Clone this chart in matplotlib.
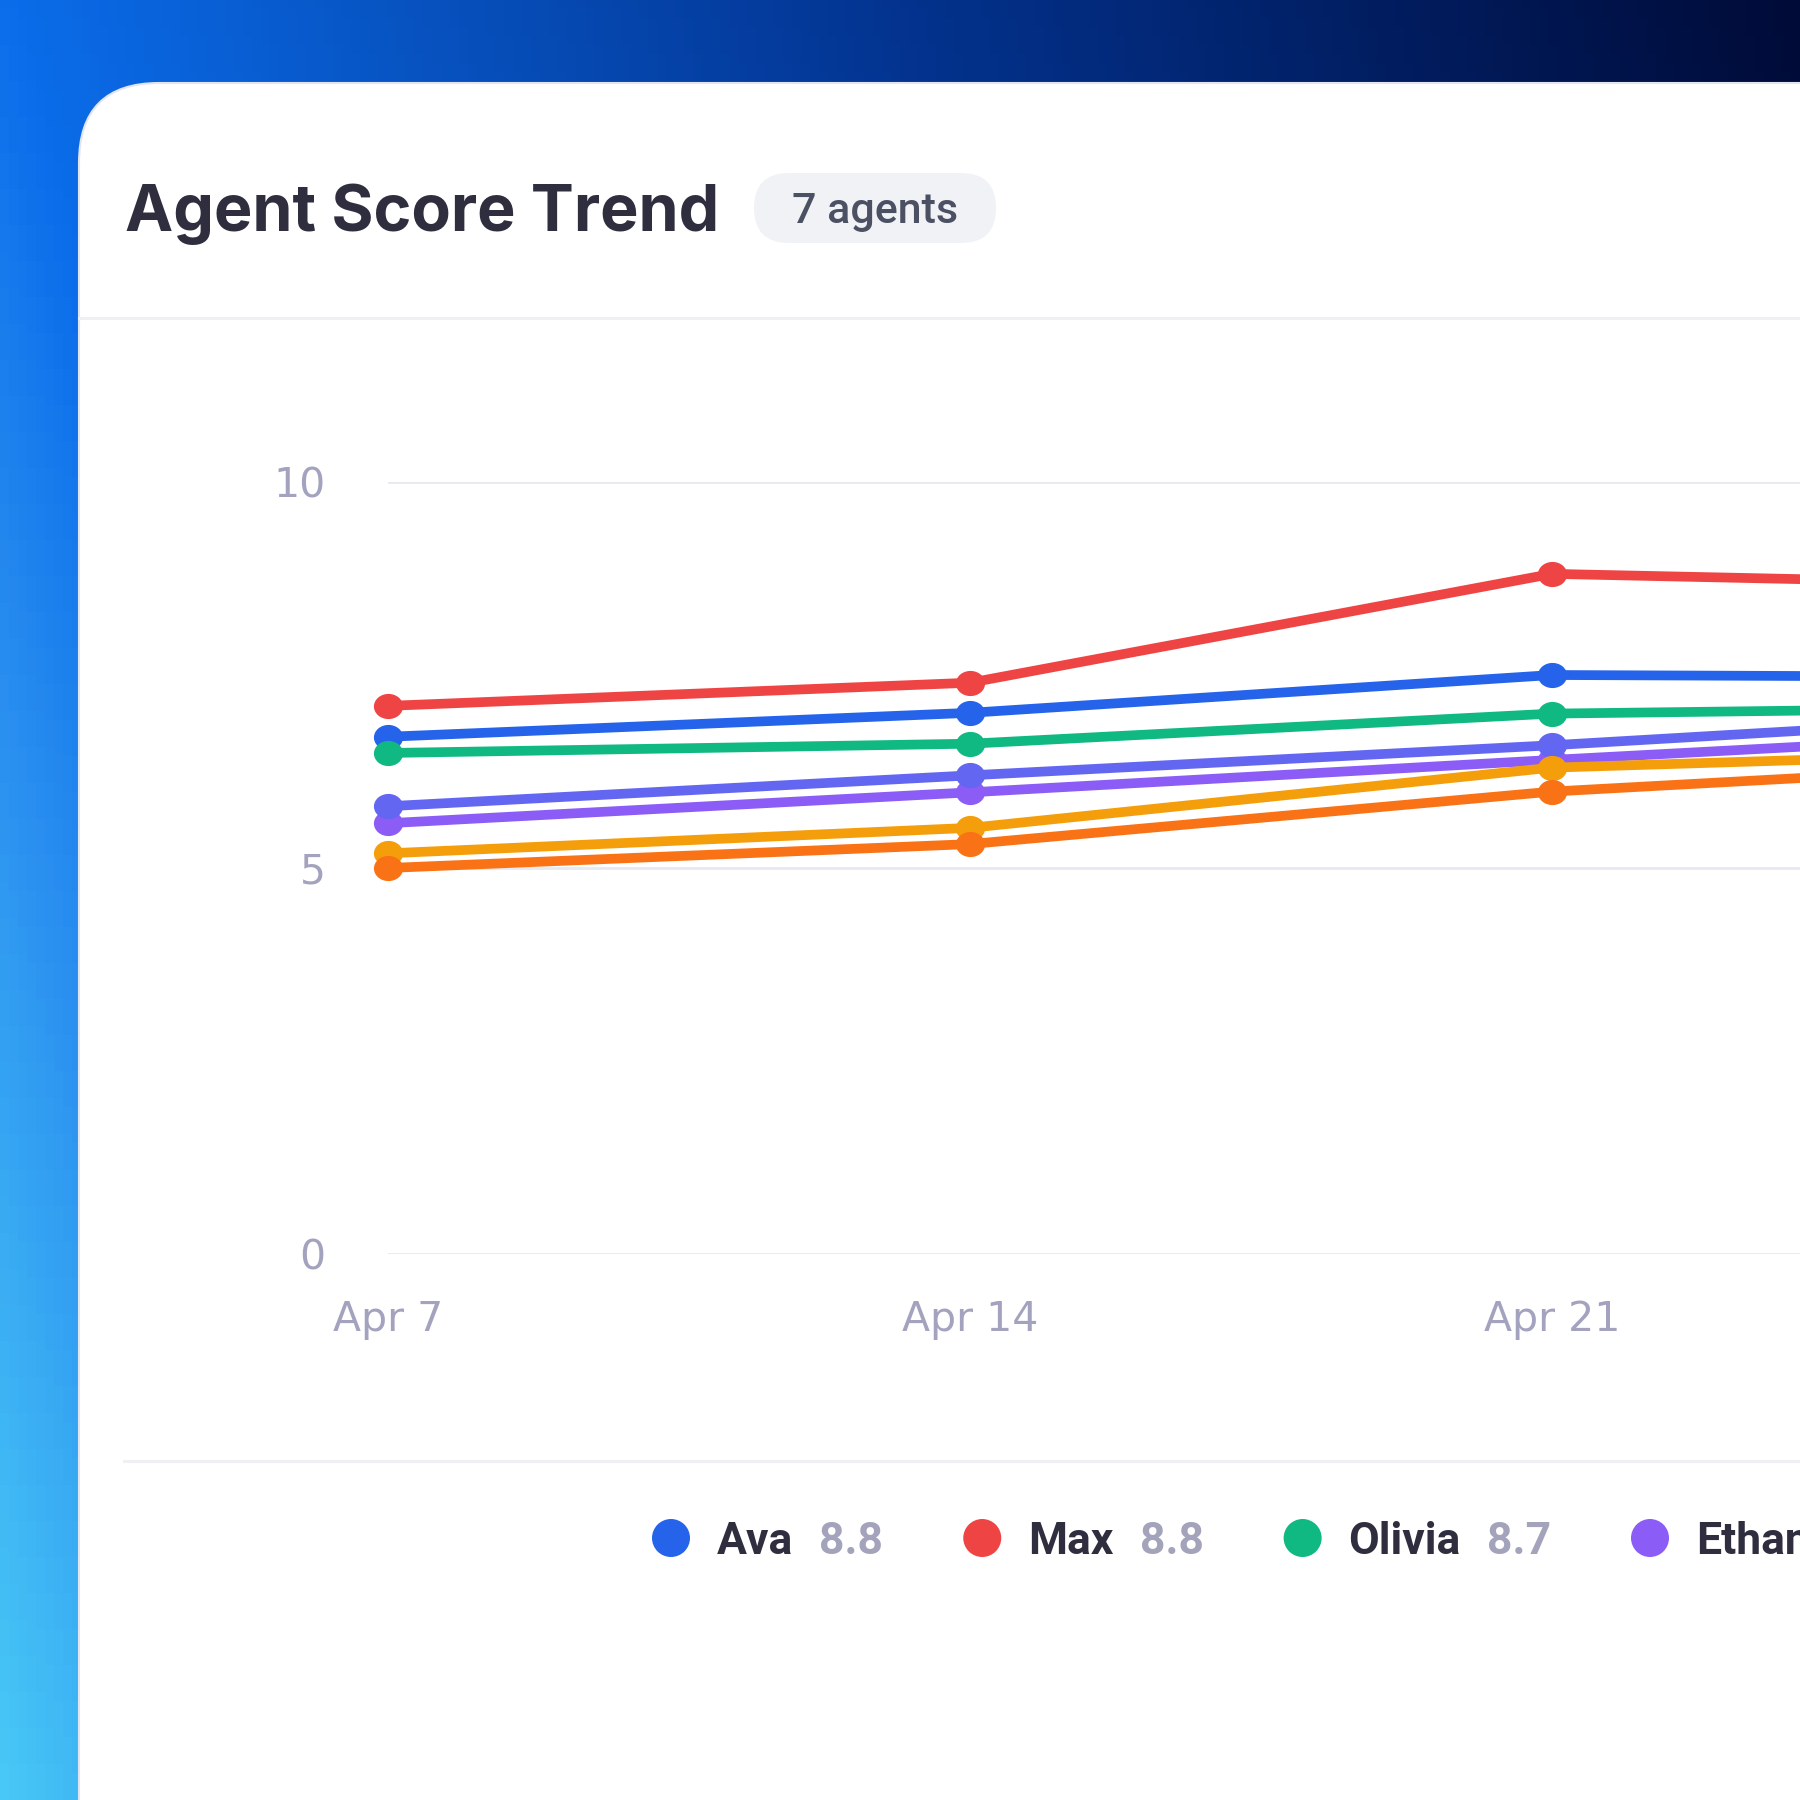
import numpy as np
import matplotlib
matplotlib.use("Agg")
import matplotlib.pyplot as plt
from matplotlib.colors import LinearSegmentedColormap
from matplotlib.patches import FancyBboxPatch, Circle
from matplotlib.path import Path
from matplotlib.transforms import Affine2D

# ---- data ----
weeks = ["Apr 7", "Apr 14", "Apr 21", "Apr 28"]
agents = ["Ava", "Max", "Olivia", "Ethan", "Sophia", "Liam", "Noah"]
colors = ["#2563eb", "#ef4444", "#10b981", "#8b5cf6", "#6366f1", "#f59e0b", "#f97316"]
ava = [6.70, 7.01, 7.50, 7.47]
max_ = [7.10, 7.40, 8.81, 8.65]
olivia = [6.49, 6.61, 7.00, 7.09]
ethan = [5.58, 5.98, 6.40, 6.80]
sophia = [5.80, 6.20, 6.59, 7.03]
liam = [5.19, 5.52, 6.30, 6.53]
noah = [5.00, 5.31, 5.99, 6.40]
legend_scores = ["8.8", "8.8", "8.7", "8.5", "8.3", "8.1", "7.9"]
y_ticks = [0, 5, 10]

series = [ava, max_, olivia, ethan, sophia, liam, noah]

W = H = 1800
fig = plt.figure(figsize=(18, 18), dpi=100)

# background axes in pixel coords (y down)
bg = fig.add_axes([0, 0, 1, 1])
bg.set_xlim(0, W)
bg.set_ylim(H, 0)
bg.axis("off")

# gradient backdrop
cmap = LinearSegmentedColormap.from_list(
    "bg", [(0.0, "#48c8f6"), (0.12, "#2a8ff0"), (0.2, "#0b6dea"),
           (0.6, "#03338f"), (1.0, "#000b38")])
yy, xx = np.mgrid[0:1:200j, 0:1:200j]
t = 0.8 * xx + 0.2 * (1 - yy)
bg.imshow(t, cmap=cmap, extent=(0, W, H, 0), aspect="auto", zorder=0, vmin=0, vmax=1)

# white card, only its top-left corner is in frame
card = FancyBboxPatch((79, 83), 2200, 2200, boxstyle="round,pad=0,rounding_size=80",
                      facecolor="white", edgecolor="#e2e5ef", lw=1.5, zorder=1)
bg.add_patch(card)
bg.plot([79, W], [318, 318], color="#eef0f4", lw=2.2, zorder=2)
bg.plot([124, W], [1461, 1461], color="#eff0f4", lw=2.2, zorder=2)

# header
bg.text(125, 231, "Agent Score Trend", fontsize=46.5, fontweight="bold", family="Inter",
        color="#2f2e3e", va="baseline", ha="left", zorder=3)
badge = FancyBboxPatch((754, 173), 242, 70, boxstyle="round,pad=0,rounding_size=35",
                       facecolor="#f1f2f6", edgecolor="none", zorder=2)
bg.add_patch(badge)
bg.text(875, 223, "7 agents", fontsize=31, fontweight="medium", family="Roboto",
        color="#4b5063", va="baseline", ha="center", zorder=3)

# chart axes: 582 px per week, extends past the right edge
x0, step = 388, 582
top, bottom = 482, 1254
ax = fig.add_axes([x0 / W, 1 - bottom / H, step * (len(weeks) - 1) / W, (bottom - top) / H])
ax.set_facecolor("none")
ax.set_xlim(0, len(weeks) - 1)
ax.set_ylim(0, 10)
for s in ax.spines.values():
    s.set_visible(False)
for v in y_ticks:
    ax.axhline(v, color="#e8e8f0", lw=2, zorder=1)

ellipse = Path.unit_circle().transformed(Affine2D().scale(1.17, 1.0))
xs = np.arange(len(weeks))
for vals, c in zip(series, colors):
    ax.plot(xs, vals, color=c, lw=7, marker=ellipse, markersize=20,
            solid_capstyle="round", clip_on=False, zorder=3)

ax.set_xticks(xs)
ax.set_xticklabels(weeks)
ax.set_yticks(y_ticks)
ax.set_yticklabels([str(v) for v in y_ticks])
ax.tick_params(axis="both", length=0, labelsize=29.5, labelcolor="#a3a3bf")
ax.tick_params(axis="y", pad=45)
ax.tick_params(axis="x", pad=33)

# legend row laid out from text widths
fig.canvas.draw()
renderer = fig.canvas.get_renderer()
cx = 652
cy = 1538
for name, score, c in zip(agents, legend_scores, colors):
    bg.add_patch(Circle((cx + 19, cy), 19, facecolor=c, edgecolor="none", zorder=3))
    tx = bg.text(cx + 65, cy, name, fontsize=32, fontweight="bold", family="Roboto",
                 color="#2f2e3e", va="center_baseline", ha="left", zorder=3)
    w1 = tx.get_window_extent(renderer).width
    tv = bg.text(cx + 65 + w1 + 26, cy, score, fontsize=32, fontweight="bold", family="Roboto",
                 color="#a3a3bb", va="center_baseline", ha="left", zorder=3)
    w2 = tv.get_window_extent(renderer).width
    cx = cx + 65 + w1 + 26 + w2 + 80

fig.savefig("out.png", dpi=100)
